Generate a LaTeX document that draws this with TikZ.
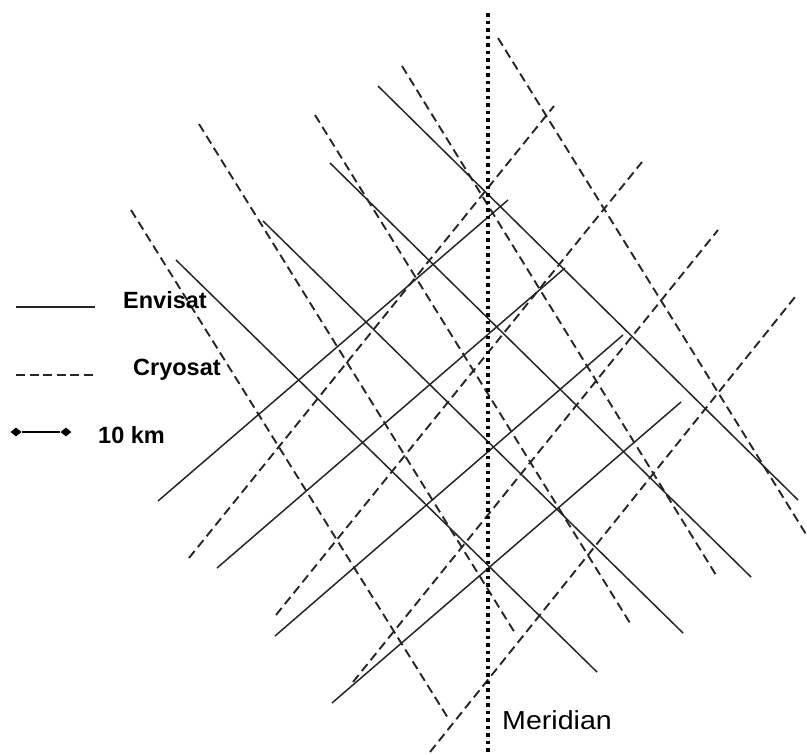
\documentclass[tikz,border=0pt]{standalone}
\usepackage{fontspec}
\setmainfont{Liberation Sans}
\usetikzlibrary{shapes.geometric}
\definecolor{trackgray}{gray}{0.15}

\begin{document}
\begin{tikzpicture}[
x=1pt, y=-1pt,
envisat/.style={draw=trackgray, line width=1.5pt},
cryosat/.style={draw=trackgray, line width=1.9pt, dash pattern=on 9pt off 5pt},
meridian/.style={draw=black, line width=3.8pt, dash pattern=on 3.8pt off 3.7pt},
legend/.style={font=\fontsize{23.5}{27}\selectfont\bfseries, anchor=base west, inner sep=0pt},
tick/.style={diamond, fill=black, inner sep=0pt, minimum width=11pt, minimum height=9pt}
]
\useasboundingbox (0,0) rectangle (807,755);

% Envisat tracks, descending
\draw[envisat] (176,260) -- (597,672);
\draw[envisat] (263,221) -- (683,633);
\draw[envisat] (330,163) -- (751,577);
\draw[envisat] (378,86) -- (798,500);
% Envisat tracks, ascending
\draw[envisat] (158,501) -- (508,200);
\draw[envisat] (217,568) -- (565,268);
\draw[envisat] (275,636) -- (623,335);
\draw[envisat] (332,703) -- (681,402);

% Cryosat tracks, descending
\draw[cryosat] (131,210) -- (448,718);
\draw[cryosat] (199,124) -- (515,633);
\draw[cryosat] (315,115) -- (630,623);
\draw[cryosat] (402,66) -- (716,575);
\draw[cryosat] (498,38) -- (814,547);
% Cryosat tracks, ascending
\draw[cryosat] (189,558) -- (554,106);
\draw[cryosat] (276,615) -- (642,162);
\draw[cryosat] (353,682) -- (718,230);
\draw[cryosat] (430,752) -- (795,297);

% meridian
\draw[meridian] (488,13) -- (488,757);
\node[anchor=base west, inner sep=0pt, font=\fontsize{26}{30}\selectfont, xscale=1.1] (meridian) at (502,729) {Meridian};

% legend
\coordinate (env-a) at (16,307);
\coordinate (env-b) at (95,307);
\draw[envisat, line width=1.8pt] (env-a) -- (env-b);
\node[legend] (envisat) at (123,308) {Envisat};

\coordinate (cryo-a) at (16,375);
\coordinate (cryo-b) at (96,375);
\draw[cryosat, dash pattern=on 9pt off 4.5pt] (cryo-a) -- (cryo-b);
\node[legend] (cryosat) at (133,375) {Cryosat};

\node[tick] (bar-l) at (16,432) {};
\node[tick] (bar-r) at (66,432) {};
\draw[line width=2.4pt] (bar-l) -- (bar-r);
\node[legend] (scale) at (98,443) {10 km};
\end{tikzpicture}
\end{document}
